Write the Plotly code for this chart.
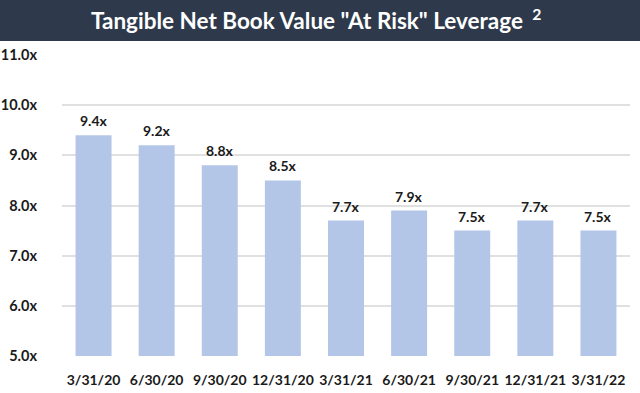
import plotly.graph_objects as go

categories = ["3/31/20", "6/30/20", "9/30/20", "12/31/20", "3/31/21", "6/30/21", "9/30/21", "12/31/21", "3/31/22"]
values = [9.4, 9.2, 8.8, 8.5, 7.7, 7.9, 7.5, 7.7, 7.5]
value_labels = ["9.4x", "9.2x", "8.8x", "8.5x", "7.7x", "7.9x", "7.5x", "7.7x", "7.5x"]
y_ticks = [5, 6, 7, 8, 9, 10, 11]
y_tick_labels = ["5.0x", "6.0x", "7.0x", "8.0x", "9.0x", "10.0x", "11.0x"]
title_text = '<b>Tangible Net Book Value "At Risk" Leverage <sup> 2</sup></b>'
y_min, y_max = 5, 11

FONT = "Lato, Noto Sans, sans-serif"
INK = "#1a1a1a"

W, H = 640, 393
ml, mr, mt, mb = 62, 10, 55, 37
pw = W - ml - mr
ph = H - mt - mb

fig = go.Figure()
fig.add_trace(go.Bar(
    x=categories,
    y=[v - y_min for v in values],
    base=y_min,
    marker=dict(color="#b4c6e7", line=dict(width=0)),
    hoverinfo="skip",
))

annotations = [dict(
    x=c, y=v, xref="x", yref="y", text="<b>%s</b>" % t,
    showarrow=False, xanchor="center", yanchor="bottom", yshift=4,
    font=dict(family=FONT, size=14, color=INK),
) for c, v, t in zip(categories, values, value_labels)]

annotations.append(dict(
    text=title_text, xref="paper", yref="paper",
    x=(316 - ml) / pw, y=1 + (mt - 19) / ph,
    xanchor="center", yanchor="middle", showarrow=False,
    font=dict(family=FONT, size=22.5, color="white"),
))

fig.update_layout(
    width=W, height=H,
    margin=dict(l=ml, r=mr, t=mt, b=mb, autoexpand=False),
    plot_bgcolor="white", paper_bgcolor="white",
    bargap=0.43,
    showlegend=False,
    font=dict(family=FONT, size=14, color=INK),
    xaxis=dict(
        showgrid=False, showline=False, zeroline=False, automargin=False,
        tickfont=dict(family=FONT, size=14, color=INK, weight="bold"),
        ticks="", ticklabelstandoff=14, tickangle=0,
    ),
    yaxis=dict(
        range=[y_min, y_max], tickvals=y_ticks, ticktext=y_tick_labels,
        showgrid=True, gridcolor="#e0e0e0", gridwidth=2,
        zeroline=False, showline=False, automargin=False,
        tickfont=dict(family=FONT, size=14.5, color=INK, weight="bold"),
        ticks="", ticklabelstandoff=24,
    ),
    shapes=[dict(
        type="rect", xref="paper", yref="paper",
        x0=-ml / pw, x1=1 + mr / pw,
        y0=1 + (mt - 41) / ph, y1=1 + mt / ph,
        fillcolor="#2e3a4b", line=dict(width=0), layer="above",
    )],
    annotations=annotations,
)

fig.write_html(
    "out.html",
    config={"displayModeBar": False},
    post_script="document.body.style.margin='0px';document.body.style.padding='0px';",
)
